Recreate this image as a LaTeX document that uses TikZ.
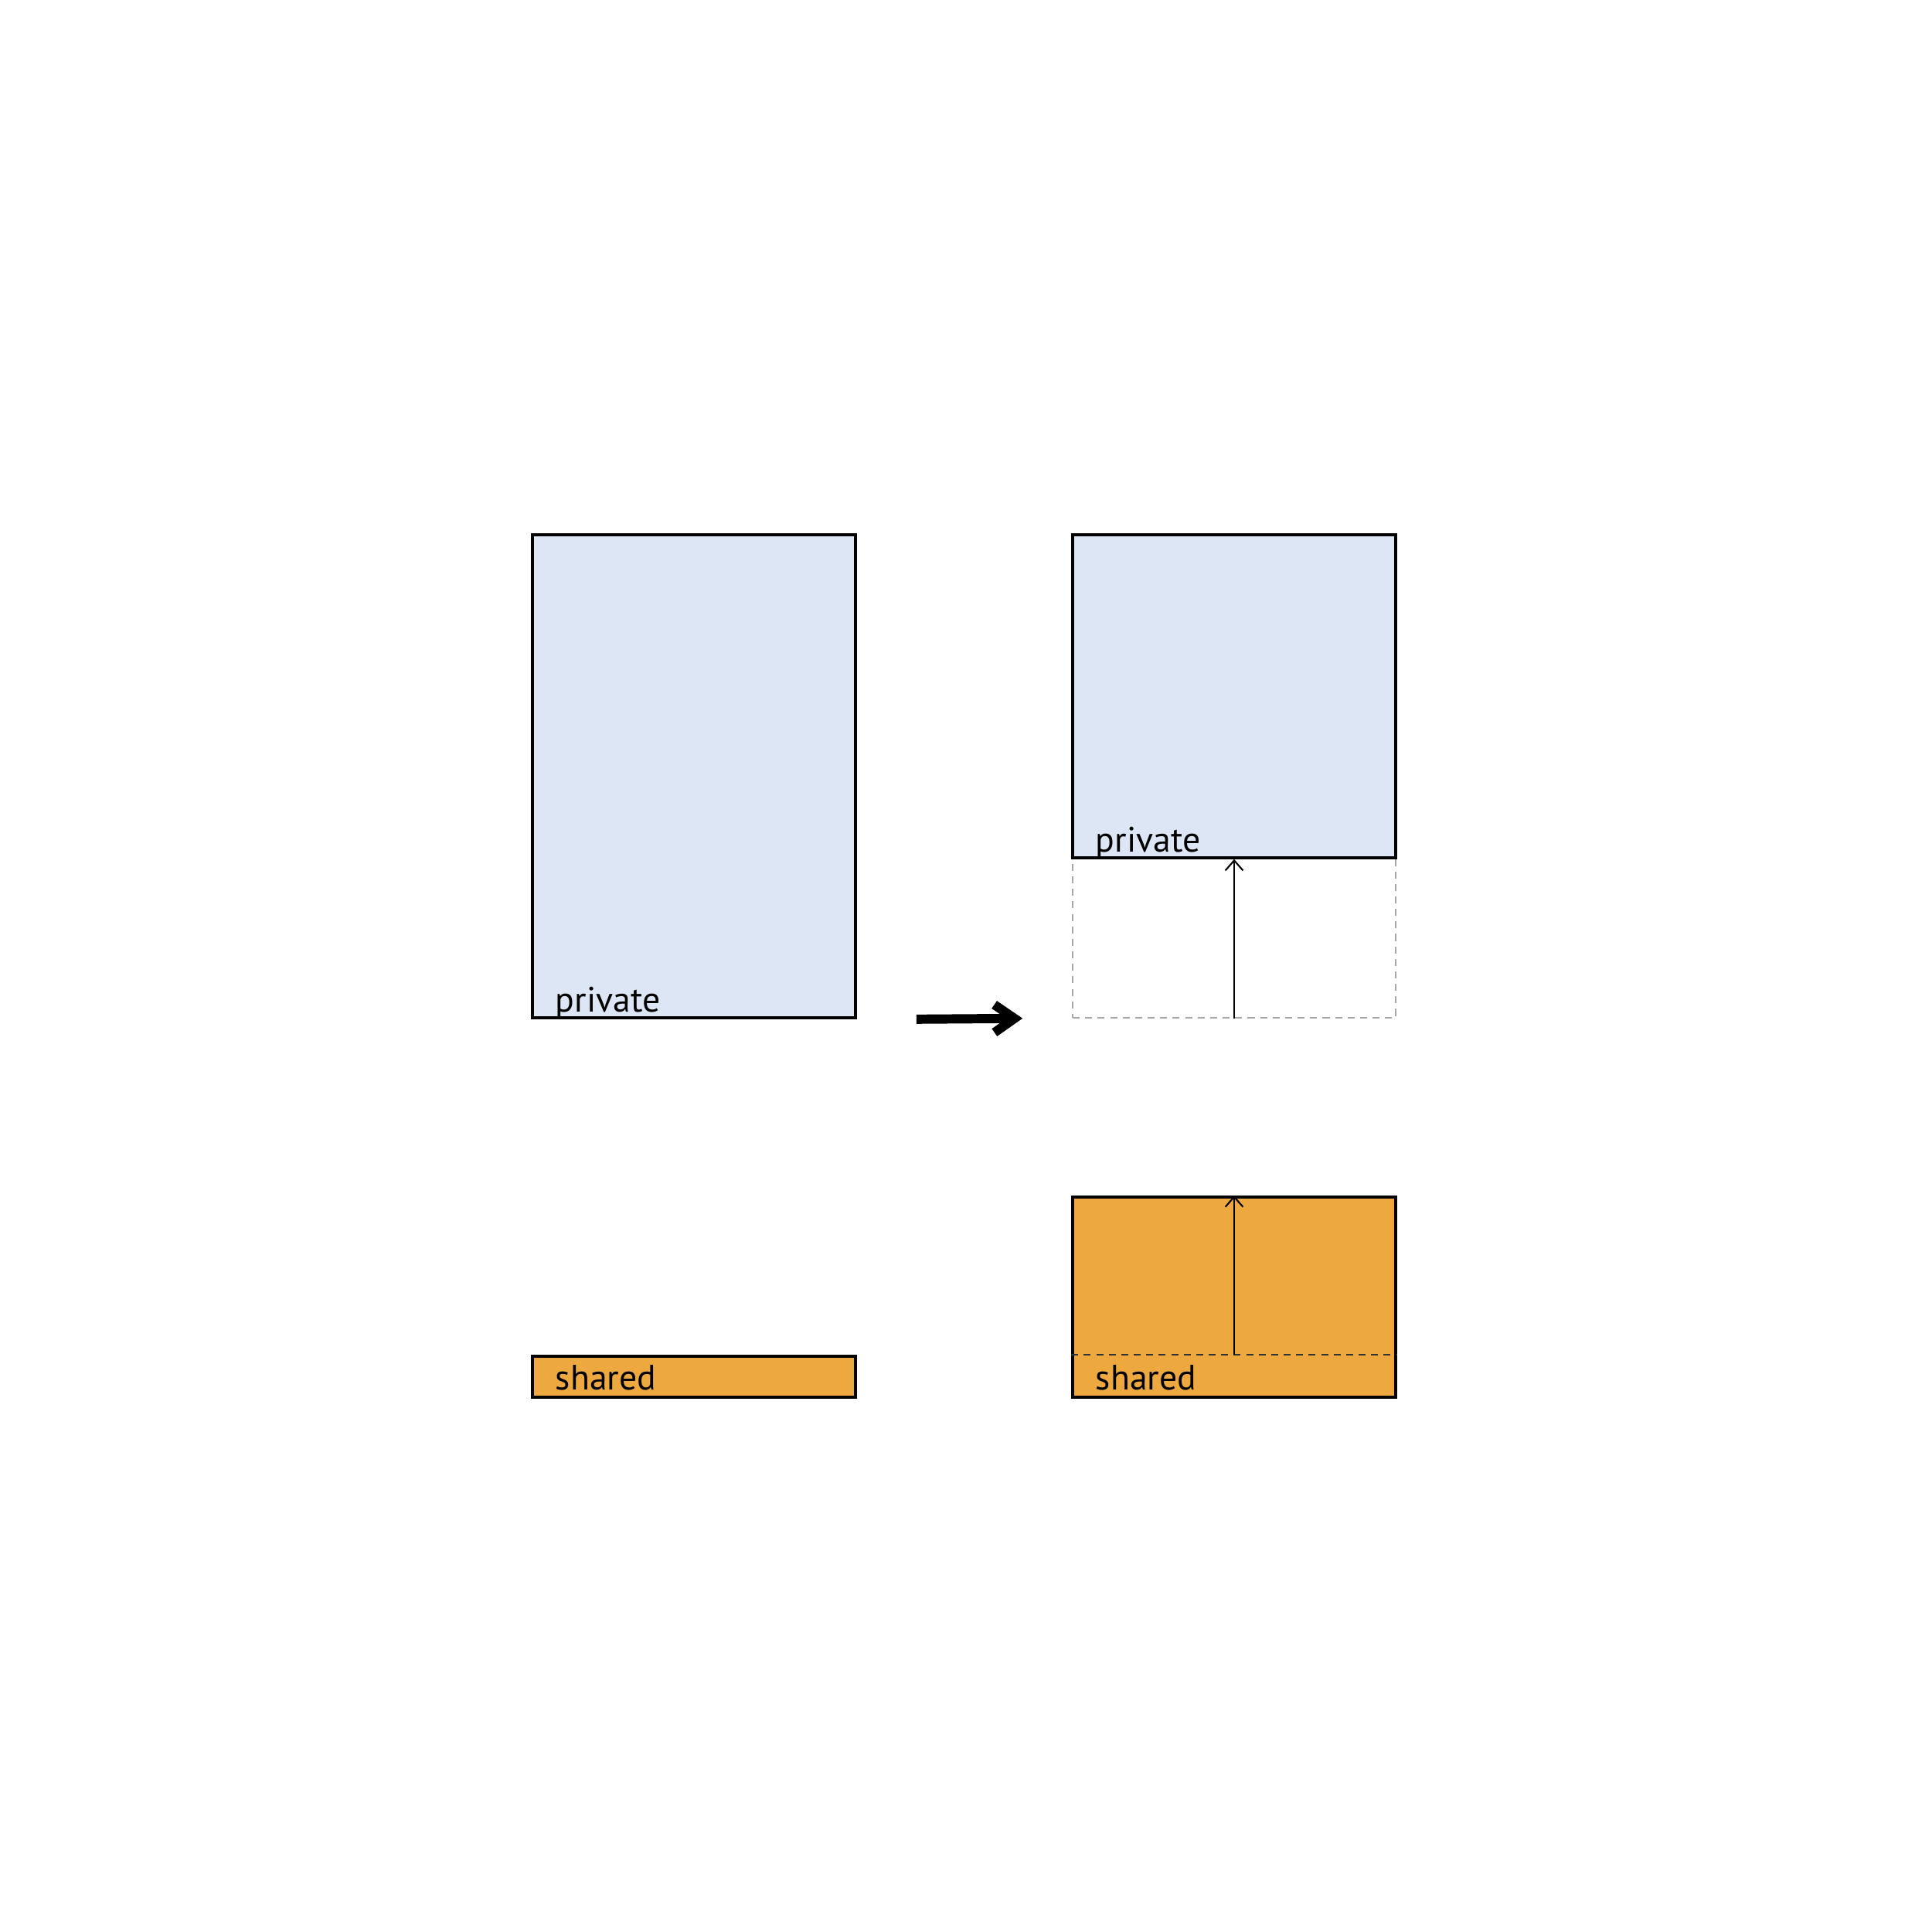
\documentclass[tikz,border=0pt]{standalone}
\usepackage{fontspec}
\setmainfont{PT Sans}
\usepackage{tikz}
\usetikzlibrary{positioning, arrows.meta, calc}
\usepackage{xcolor}
\definecolor{privfill}{HTML}{DCE6F4}
\definecolor{sharedfill}{HTML}{EEA840}

\begin{document}
\begin{tikzpicture}[
    box/.style={draw, line width=1.05pt, inner sep=0pt, minimum width=4.18cm},
    privbox/.style={box, fill=privfill},
    sharedbox/.style={box, fill=sharedfill},
    lbl/.style={anchor=base west, inner sep=0pt, font=\fontsize{13pt}{15pt}\selectfont},
    growarrow/.style={-{Straight Barb[length=3.7pt, width=6.5pt]}, line width=0.6pt},
    olddash/.style={dash pattern=on 2.6pt off 2pt, line width=0.45pt}
]
    \useasboundingbox (0,0) rectangle (25,25);

    % before
    \node[privbox, minimum height=6.25cm] (lpriv) at (8.98,14.955) {};
    \node[sharedbox, minimum height=0.53cm] (lshared) at (8.98,7.185) {};
    \node[lbl] at ($(lpriv.south west)+(0.31,0.09)$) {private};
    \node[lbl] at ($(lshared.south west)+(0.31,0.11)$) {shared};

    % after
    \node[draw=gray!70, olddash, inner sep=0pt, minimum width=4.18cm, minimum height=2.07cm] (rgap) at (15.97,12.865) {};
    \node[privbox, minimum height=4.18cm] (rpriv) at (15.97,15.99) {};
    \node[sharedbox, minimum height=2.59cm] (rshared) at (15.97,8.215) {};
    \node[lbl] at ($(rpriv.south west)+(0.31,0.09)$) {private};
    \node[lbl] at ($(rshared.south west)+(0.31,0.11)$) {shared};
    \coordinate (rold) at (rshared.south |- lshared.north);
    \draw[olddash, black!80] (rshared.west |- rold) -- (rshared.east |- rold);

    \draw[growarrow] (rgap.south) -- (rpriv.south);
    \draw[growarrow] (rold) -- (rshared.north);

    % step arrow
    \draw[-{Straight Barb[length=0.26cm, width=0.36cm]}, line width=3.4pt]
        ([xshift=0.77cm]lpriv.south east) -- ([xshift=-0.64cm]rgap.south west);
\end{tikzpicture}
\end{document}
